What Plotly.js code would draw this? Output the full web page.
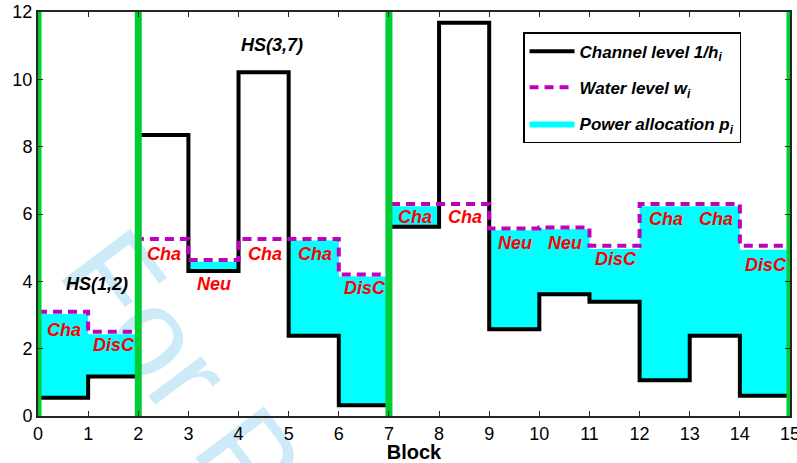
<!DOCTYPE html>
<html>
<head>
<meta charset="utf-8">
<script src="https://cdn.plot.ly/plotly-3.0.1.min.js"></script>
<style>html,body{margin:0;padding:0;background:#fff;}#chart{width:797px;height:463px;}</style>
</head>
<body>
<div id="chart"></div>
<script>
// ---- data ----
const blockEdges = [0,1,2,3,4,5,6,7,8,9,10,11,12,13,14,15];
const channelLevel = [0.54,1.17,8.35,4.31,10.21,2.38,0.32,5.62,11.68,2.58,3.62,3.39,1.06,2.38,0.60];
const waterLevel   = [3.10,2.50,5.26,4.63,5.26,5.26,4.20,6.30,6.30,5.57,5.60,5.06,6.30,6.30,5.06];
const powerAlloc   = [2.49,1.26,0.00,0.27,0.00,2.83,3.82,0.61,0.00,2.94,1.93,1.57,5.17,3.85,4.34];
const statusText   = ['Cha','DisC','Cha','Neu','Cha','Cha','DisC','Cha','Cha','Neu','Neu','DisC','Cha','Cha','DisC'];
const statusY      = [2.55,2.11,4.80,3.92,4.80,4.80,3.79,5.92,5.92,5.13,5.13,4.65,5.84,5.84,4.50];
const groupBounds  = [0,2,7,15];
const groupNames   = ['HS(1,2)','HS(3,7)'];
const groupLabelX  = [1.17,4.66];
const groupLabelY  = [3.92,11.02];
const xTicks = [0,1,2,3,4,5,6,7,8,9,10,11,12,13,14,15];
const yTicks = [0,2,4,6,8,10,12];

// step helpers (repeat last value for the final edge)
const stepY = arr => arr.concat([arr[arr.length-1]]);
const powerTop = channelLevel.map((c,i)=>c+powerAlloc[i]);

const FONT = "Arial, 'Liberation Sans', sans-serif";

const greenX = [], greenY = [];
groupBounds.forEach(b=>{ greenX.push(b,b,null); greenY.push(0,12,null); });

const traces = [
  {x:blockEdges, y:stepY(channelLevel), mode:'lines', line:{shape:'hv', width:0, color:'rgba(0,0,0,0)'},
   showlegend:false, hoverinfo:'skip'},
  {x:blockEdges, y:stepY(powerTop), mode:'lines', line:{shape:'hv', width:0, color:'#00FFFF'},
   fill:'tonexty', fillcolor:'#00FFFF', name:'Power allocation p<sub>i</sub>', legendrank:3, legendgroup:'c'},
  {x:blockEdges, y:stepY(channelLevel), mode:'lines', line:{shape:'hv', width:4, color:'#000000'},
   name:'Channel level 1/h<sub>i</sub>', legendrank:1, legendgroup:'a'},
  {x:blockEdges, y:stepY(waterLevel), mode:'lines', line:{shape:'hv', width:4, color:'#BF00BF', dash:'9px,6px'},
   name:'Water level w<sub>i</sub>', legendrank:2, legendgroup:'b'},
  {x:greenX, y:greenY, mode:'lines', line:{width:7, color:'#00CC33'}, showlegend:false,
   hoverinfo:'skip', cliponaxis:false}
];

const annotations = statusText.map((t,i)=>({
  x:i+0.52, y:statusY[i], text:t, showarrow:false, xref:'x', yref:'y',
  font:{family:FONT, size:18, color:'#FF0000', weight:'bold', style:'italic'}
}));
groupNames.forEach((t,i)=>annotations.push({
  x:groupLabelX[i], y:groupLabelY[i], text:t, showarrow:false, xref:'x', yref:'y',
  font:{family:FONT, size:18, color:'#000000', weight:'bold', style:'italic'}
}));

const axisCommon = {
  showgrid:false, zeroline:false, showline:true, linecolor:'#262626', linewidth:2,
  mirror:'ticks', ticks:'inside', ticklen:5, tickwidth:1, tickcolor:'#262626',
  ticklabeloverflow:'allow',
  tickfont:{family:FONT, size:18, color:'#000000'}
};

const layout = {
  width:797, height:463,
  margin:{l:38, r:7, t:12, b:47},
  paper_bgcolor:'#ffffff', plot_bgcolor:'#ffffff',
  xaxis:Object.assign({}, axisCommon, {range:[0,15], tickvals:xTicks,
    title:{text:'Block', font:{family:FONT, size:20, color:'#000', weight:'bold'}, standoff:2}}),
  yaxis:Object.assign({}, axisCommon, {range:[0,12], tickvals:yTicks}),
  showlegend:true,
  legend:{x:0.645, y:0.95, xanchor:'left', yanchor:'top', bgcolor:'#ffffff',
    bordercolor:'#000000', borderwidth:1.5, traceorder:'grouped', tracegroupgap:11, itemwidth:45,
    font:{family:FONT, size:17, color:'#000', weight:'bold', style:'italic'}},
  annotations:annotations,
  shapes:[{
    type:'line', xref:'paper', yref:'paper', x0:0.005, y0:0.33, x1:0.75, y1:-1.51,
    layer:'below', line:{width:0, color:'rgba(0,0,0,0)'},
    label:{text:'For Peer Review', textposition:'start', yanchor:'bottom', textangle:'auto',
      font:{family:FONT, size:125, color:'#CDEAF9'}}
  }]
};

Plotly.newPlot('chart', traces, layout, {displayModeBar:false, staticPlot:true});
</script>
</body>
</html>
